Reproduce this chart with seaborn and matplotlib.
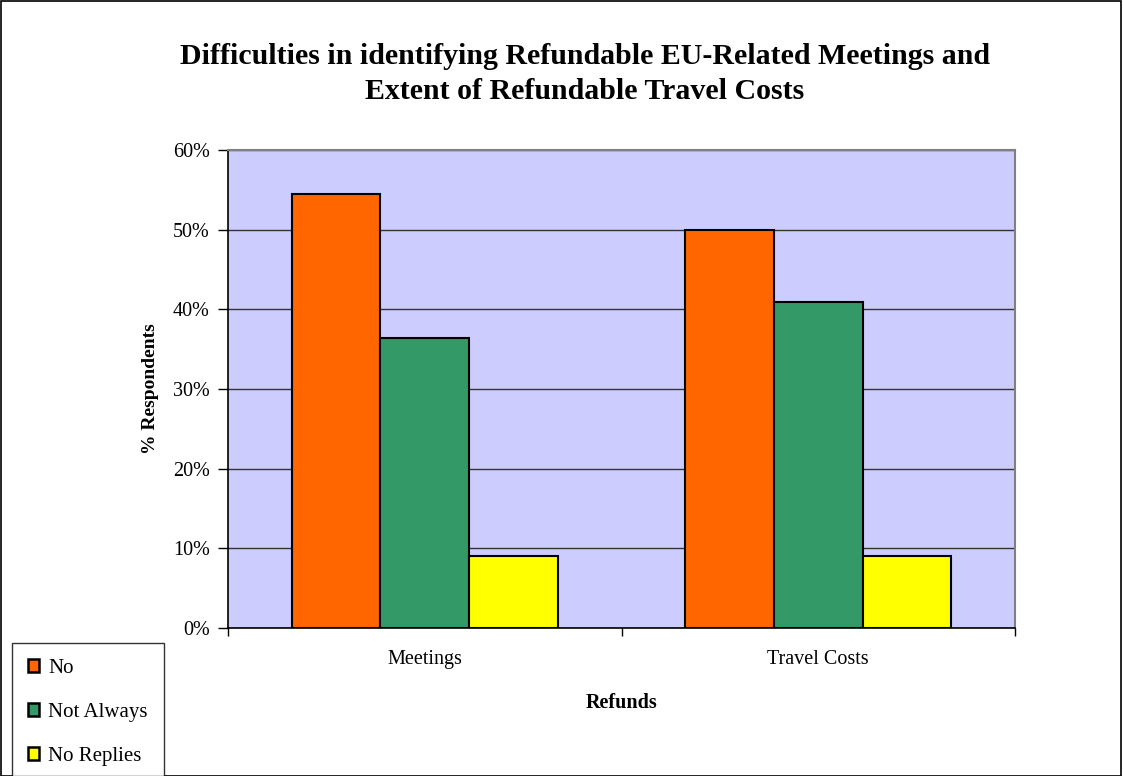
import matplotlib
matplotlib.use("Agg")
import matplotlib.pyplot as plt
import seaborn as sns
import pandas as pd
from matplotlib.patches import Patch, Rectangle
from matplotlib.ticker import PercentFormatter

categories = ["Meetings", "Travel Costs"]
series = ["No", "Not Always", "No Replies"]
no_vals = [54.5, 50.0]
not_always_vals = [36.4, 40.9]
no_replies_vals = [9.1, 9.1]
colors = ["#FF6600", "#339966", "#FFFF00"]
yticks = [0, 10, 20, 30, 40, 50, 60]

rows = []
for i, c in enumerate(categories):
    for s, vals in zip(series, [no_vals, not_always_vals, no_replies_vals]):
        rows.append({"Refunds": c, "Series": s, "Value": vals[i]})
df = pd.DataFrame(rows)

sns.set_style("white")
plt.rcParams["font.family"] = ["Liberation Serif", "DejaVu Serif"]
plt.rcParams["text.color"] = "black"
plt.rcParams["axes.labelcolor"] = "black"
plt.rcParams["xtick.color"] = "black"
plt.rcParams["ytick.color"] = "black"

fig = plt.figure(figsize=(11.23, 7.76), dpi=100)
ax = fig.add_axes([228/1123, 1-628/776, (1015-228)/1123, (628-150)/776])
ax.set_facecolor("#CCCCFF")

sns.barplot(data=df, x="Refunds", y="Value", hue="Series", hue_order=series,
            palette=colors, order=categories, width=0.675, gap=0,
            edgecolor="black", linewidth=1.5, ax=ax, legend=False, saturation=1)

ax.set_ylim(0, 60)
ax.set_xlim(-0.5, 1.5)
ax.set_yticks(yticks)
ax.yaxis.set_major_formatter(PercentFormatter(decimals=0))
ax.yaxis.grid(True, color="#333333", linewidth=1)
ax.set_axisbelow(True)
ax.tick_params(axis="y", direction="out", length=7, width=1, labelsize=14.5, left=True, pad=6)
ax.tick_params(axis="x", which="major", length=0, labelsize=14.5, pad=16)
ax.set_xticks([-0.5, 0.5, 1.5], minor=True)
ax.tick_params(axis="x", which="minor", direction="out", length=6, width=1, bottom=True)

for sp in ["left", "bottom"]:
    ax.spines[sp].set_color("black")
    ax.spines[sp].set_linewidth(1.2)
for sp in ["top", "right"]:
    ax.spines[sp].set_color("#808080")
    ax.spines[sp].set_linewidth(1.5)

ax.set_ylabel("% Respondents", fontsize=14, fontweight="bold", labelpad=10)
ax.set_xlabel("Refunds", fontsize=14.5, fontweight="bold", labelpad=17)

fig.text(0.521, 1-74/776, "Difficulties in identifying Refundable EU-Related Meetings and\nExtent of Refundable Travel Costs",
         ha="center", va="center", fontsize=21.5, fontweight="bold", linespacing=1.4)

handles = [Patch(facecolor=c, edgecolor="black", linewidth=1.8) for c in colors]
leg = fig.legend(handles, series, loc="upper left", bbox_to_anchor=(12/1123, 1-643/776),
                 frameon=True, fancybox=False, edgecolor="black", fontsize=15,
                 handlelength=0.55, handleheight=0.55, handletextpad=0.45,
                 labelspacing=1.2, borderpad=0.75, borderaxespad=0)
leg.get_frame().set_linewidth(1.0)

fig.patches.append(Rectangle((0.0005, 0.0005), 0.998, 0.998, transform=fig.transFigure,
                             fill=False, edgecolor="black", linewidth=1.2))

fig.savefig("out.png", dpi=100)
